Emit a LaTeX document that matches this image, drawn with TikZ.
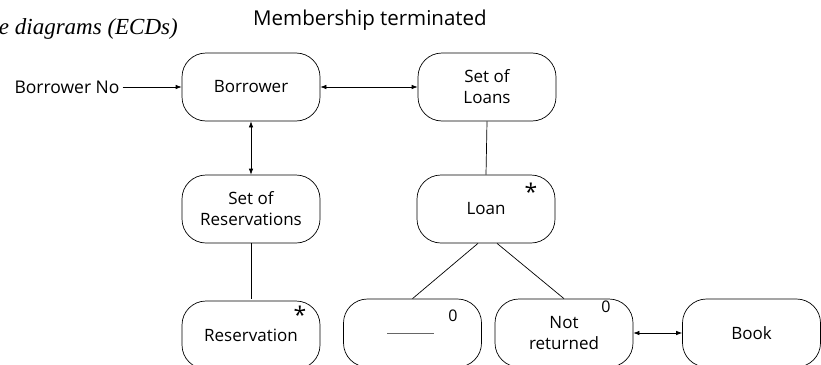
\documentclass[tikz,border=0pt]{standalone}
\usepackage{fontspec}
\setmainfont{Open Sans}
\newfontfamily\bookserif{Liberation Serif}
\usetikzlibrary{arrows.meta,positioning}

\begin{document}
\begin{tikzpicture}[x=1pt, y=-1pt,
        entbox/.style={rectangle, draw, line width=0.7pt, rounded corners=24pt,
                       minimum width=138pt, minimum height=68pt, align=center,
                       inner sep=2pt, font=\fontsize{17}{21}\selectfont},
        starlbl/.style={inner sep=0pt, font=\fontsize{23}{23}\selectfont},
        zerolbl/.style={inner sep=0pt, font=\fontsize{16}{16}\selectfont},
        link/.style={line width=0.7pt},
        biarrow/.style={line width=0.7pt, {Latex[length=6pt,width=4.5pt]}-{Latex[length=6pt,width=4.5pt]}}
      ]
        \clip (0,0) rectangle (821,364);

        % Caption fragment and title
        \node[anchor=base east, inner sep=0pt, font=\bookserif\itshape\fontsize{23}{27}\selectfont]
          (caption) at (178, 34) {e diagrams (ECDs)};
        \node[inner sep=0pt, font=\fontsize{20.5}{24}\selectfont] (title) at (370, 20) {Membership terminated};

        % Top row
        \node[entbox] (borrower) at (251, 87)  {Borrower};
        \node[entbox] (loans)    at (487, 87)  {Set of\\Loans};
        \node[inner sep=0pt, font=\fontsize{17.5}{21}\selectfont] (borrowerno) at (67, 87) {Borrower No};

        % Middle row
        \node[entbox] (reservations) at (251, 209) {Set of\\Reservations};
        \node[entbox] (loan)         at (486, 209) {Loan};

        % Bottom row
        \node[entbox] (reservation) at (251, 335)   {Reservation};
        \node[entbox] (blank)       at (412.5, 333) {};
        \node[entbox] (notret)      at (564, 333)   {Not\\returned};
        \node[entbox] (book)        at (751.5, 333) {Book};

        % Iteration and selection marks
        \node[starlbl] (resstar)  at (300, 315) {*};
        \node[starlbl] (loanstar) at (531, 192) {*};
        \node[zerolbl] (blankzero)  at (453, 316) {0};
        \node[zerolbl] (notretzero) at (606, 307) {0};
        \coordinate (dashL) at (387, 333);
        \coordinate (dashR) at (434, 333);
        \draw[link, black!60] (dashL) -- (dashR);

        % Connectors
        \draw[link, -{Latex[length=6pt,width=4.5pt]}] (borrowerno.east) ++(3,0) -- (borrower.west);
        \draw[biarrow] (borrower.east) -- (loans.west);
        \draw[biarrow] (borrower.south) -- (reservations.north);
        \draw[link] (loans.south) -- (loan.north);
        \draw[link] (reservations.south) -- ([yshift=2pt]reservation.north);
        \draw[link] ([xshift=-8pt]loan.south) -- (blank.north);
        \draw[link] ([xshift=11pt]loan.south) -- (notret.north);
        \draw[biarrow] (notret.east) -- (book.west);
      \end{tikzpicture}
\end{document}
